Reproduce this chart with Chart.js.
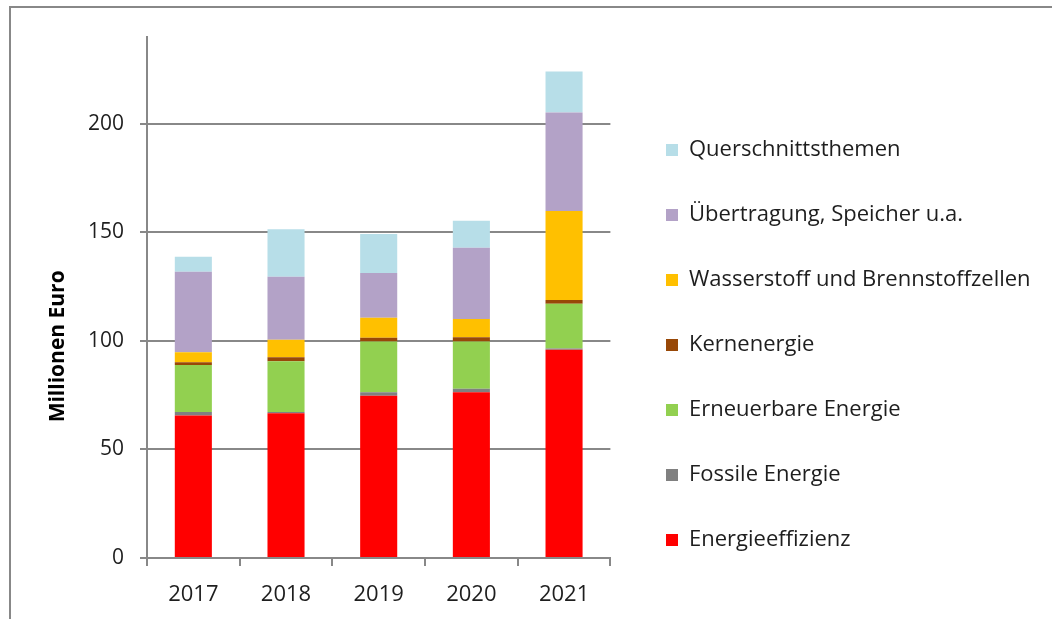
<!DOCTYPE html>
<html>
<head>
<meta charset="utf-8">
<script src="https://cdn.jsdelivr.net/npm/chart.js@4"></script>
<style>
  body { margin: 0; background: #fff; }
  #frame { position: absolute; left: 9px; top: 6px; width: 1200px; height: 800px; border-top: 2px solid #888; border-left: 2px solid #888; }
  #wrap { position: absolute; left: 0; top: 0; width: 1052px; height: 619px; }
</style>
</head>
<body>
<div id="frame"></div>
<div id="wrap"><canvas id="chart" width="1052" height="619"></canvas></div>
<script>
// years and series (Millionen Euro), stacked bottom -> top
const years = ["2017", "2018", "2019", "2020", "2021"];
const energieeffizienz = [65.6, 66.7, 74.7, 76.4, 95.9];
const fossileEnergie = [1.6, 0.6, 1.7, 1.6, 0.6];
const erneuerbareEnergie = [21.7, 23.3, 23.3, 21.7, 20.6];
const kernenergie = [1.3, 1.9, 1.8, 2.0, 1.8];
const wasserstoff = [4.6, 8.0, 9.2, 8.4, 41.0];
const uebertragung = [37.1, 29.1, 20.6, 32.8, 45.3];
const querschnitt = [6.9, 21.8, 17.9, 12.4, 18.9];
const yTicks = [0, 50, 100, 150, 200];
const yTitleText = "Millionen Euro";

const gridColor = "#888888";
const textColor = "#1e1e1e";
const font = "'Open Sans', 'Liberation Sans', sans-serif";

function bar(label, data, color){
    return { label: label, data: data, backgroundColor: color, borderWidth: 0,
             barPercentage: 0.4, categoryPercentage: 1.0 };
}

// move legend to where the reference has it
const legendShift = {
    id: "legendShift",
    afterLayout(chart){
        const lg = chart.legend;
        const pad = lg.options.labels.padding;
        const dx = 666 - (lg.left + pad);
        const dy = 139 - (lg.top + pad);
        lg.left += dx; lg.right += dx;
        lg.top += dy; lg.bottom += dy;
    }
};

// y title is not centred on the axis in the reference
const yTitle = {
    id: "yTitle",
    afterDraw(chart){
        const ctx = chart.ctx;
        const y = chart.scales.y;
        ctx.save();
        ctx.translate(58, y.getPixelForValue(97.5));
        ctx.rotate(-Math.PI / 2);
        ctx.font = "bold 21px " + font;
        ctx.fillStyle = "#000";
        ctx.textAlign = "center";
        ctx.textBaseline = "middle";
        ctx.fillText(yTitleText, 0, 0);
        ctx.restore();
    }
};

const ctx = document.getElementById("chart");
const chart = new Chart(ctx, {
    type: "bar",
    data: {
        labels: years,
        datasets: [
            bar("Energieeffizienz", energieeffizienz, "#ff0000"),
            bar("Fossile Energie", fossileEnergie, "#808080"),
            bar("Erneuerbare Energie", erneuerbareEnergie, "#92d050"),
            bar("Kernenergie", kernenergie, "#984807"),
            bar("Wasserstoff und Brennstoffzellen", wasserstoff, "#ffc000"),
            bar("Übertragung, Speicher u.a.", uebertragung, "#b3a2c7"),
            bar("Querschnittsthemen", querschnitt, "#b7dee8")
        ]
    },
    options: {
        responsive: false,
        animation: false,
        layout: { padding: { left: 0, top: 37, right: 24, bottom: 0 } },
        plugins: {
            tooltip: { enabled: false },
            legend: {
                position: "right",
                align: "start",
                reverse: true,
                maxWidth: 441,
                labels: {
                    boxWidth: 12,
                    boxHeight: 12,
                    padding: 43,
                    color: textColor,
                    font: { family: font, size: 22 }
                }
            }
        },
        scales: {
            x: {
                stacked: true,
                afterFit: s => { s.height = 61; },
                grid: { display: true, drawOnChartArea: false, offset: true, tickLength: 8, color: gridColor, lineWidth: 2 },
                border: { display: true, color: gridColor, width: 2 },
                ticks: { color: textColor, padding: 16, font: { family: font, size: 22 } }
            },
            y: {
                stacked: true,
                min: 0,
                max: 240,
                afterFit: s => { s.width = 147; },
                afterBuildTicks: s => { s.ticks = yTicks.map(v => ({ value: v })); },
                grid: { color: gridColor, lineWidth: 2, tickLength: 7 },
                border: { display: true, color: gridColor, width: 2 },
                ticks: { color: textColor, padding: 16, font: { family: font, size: 21 } }
            }
        }
    },
    plugins: [legendShift, yTitle]
});
</script>
</body>
</html>
